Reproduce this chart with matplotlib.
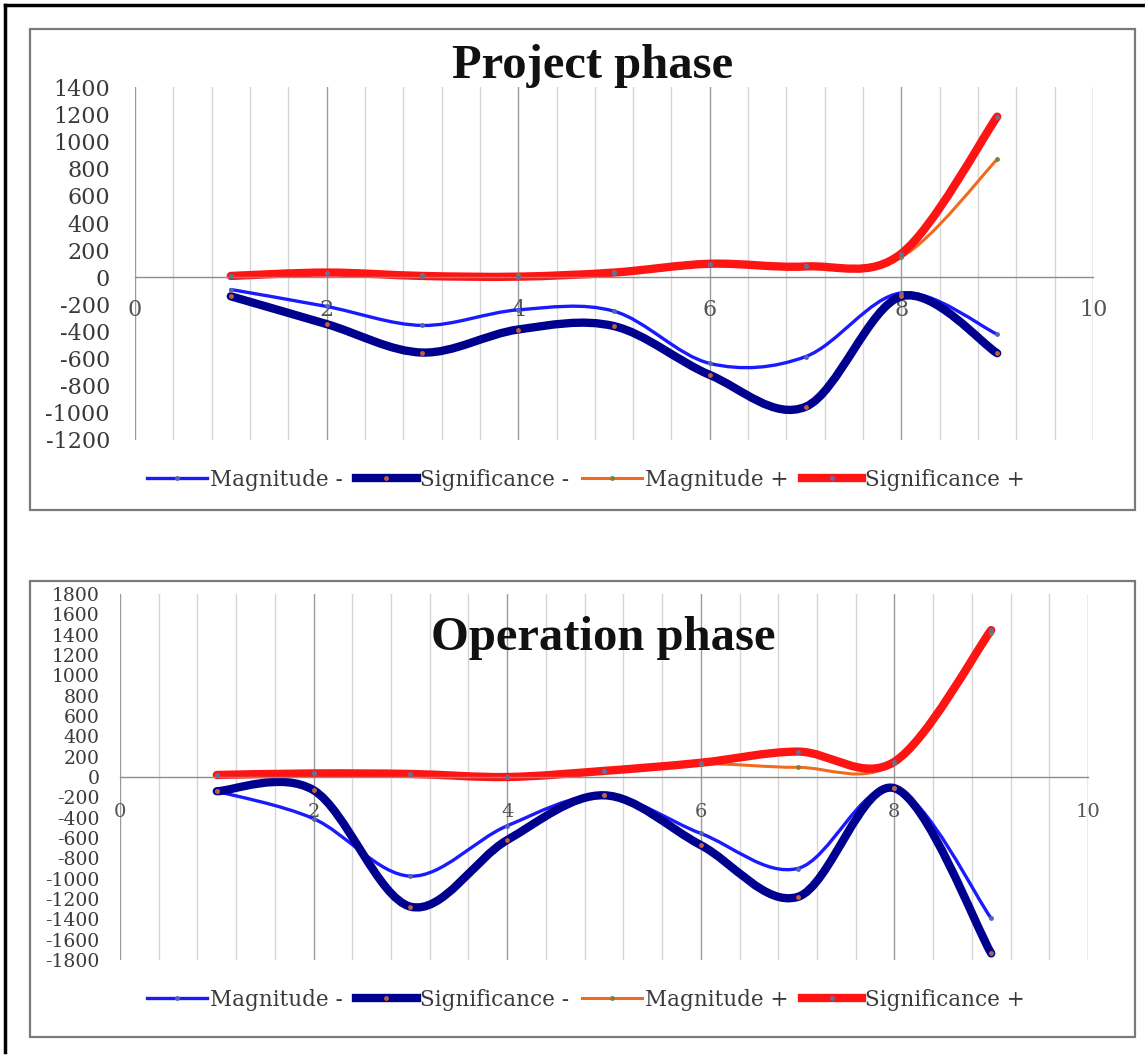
import numpy as np
import matplotlib
matplotlib.use("Agg")
import matplotlib.pyplot as plt
from matplotlib.path import Path
from matplotlib.patches import PathPatch, Rectangle
from matplotlib.lines import Line2D

plt.rcParams["axes.unicode_minus"] = False

# data (x = 1..9)
x_pts = [1, 2, 3, 4, 5, 6, 7, 8, 9]

proj_mag_neg = [-90, -215, -355, -240, -250, -635, -585, -115, -420]
proj_sig_neg = [-140, -345, -555, -385, -360, -720, -955, -140, -560]
proj_mag_pos = [10, 35, 15, 15, 40, 100, 85, 150, 870]
proj_sig_pos = [10, 35, 10, 5, 35, 100, 80, 175, 1185]

oper_mag_neg = [-140, -410, -975, -480, -180, -555, -900, -110, -1390]
oper_sig_neg = [-140, -130, -1275, -620, -180, -670, -1180, -110, -1735]
oper_mag_pos = [20, 35, 30, 0, 60, 130, 95, 140, 1420]
oper_sig_pos = [20, 35, 30, 0, 60, 140, 250, 150, 1445]

labels = ["Magnitude -", "Significance -", "Magnitude +", "Significance +"]
colors = ["#1a1aff", "#00008f", "#f26b1d", "#ff1414"]
widths = [2.4, 6.0, 2.2, 6.0]
mcolors = ["#5068b0", "#c0603a", "#808040", "#6070a0"]

W, H = 1145, 1057
fig = plt.figure(figsize=(W / 100, H / 100), dpi=100)

SERIF = "DejaVu Serif"
TXT = "#3a3a3a"


def smooth_path(xs, ys):
    # excel-like smoothed line: catmull-rom as cubic bezier segments
    p = np.column_stack([xs, ys]).astype(float)
    ext = np.vstack([p[0], p, p[-1]])
    verts = [p[0]]
    codes = [Path.MOVETO]
    for i in range(len(p) - 1):
        c1 = ext[i + 1] + (ext[i + 2] - ext[i]) / 6
        c2 = ext[i + 2] - (ext[i + 3] - ext[i + 1]) / 6
        verts += [c1, c2, p[i + 1]]
        codes += [Path.CURVE4] * 3
    return Path(verts, codes)


def px_rect(x0, y0, x1, y1):
    return [x0 / W, 1 - y1 / H, (x1 - x0) / W, (y1 - y0) / H]


def draw_panel(rect, series, ylim, fs, xfs, ypad, xpad):
    ax = fig.add_axes(rect)
    ax.set_xlim(0, 10)
    ax.set_ylim(*ylim)
    ax.set_facecolor("none")

    for v in np.arange(0.4, 10.0, 0.4):
        if abs(v / 2 - round(v / 2)) > 1e-6:
            ax.axvline(v, color="#d6d6d6", lw=1.0, zorder=0)
    for v in range(0, 11, 2):
        ax.axvline(v, color="#9a9a9a", lw=1.0, zorder=0)

    for s, c, lw, mc in zip(series, colors, widths, mcolors):
        ax.add_patch(PathPatch(smooth_path(x_pts, s), fill=False, ec=c, lw=lw,
                               capstyle="round", joinstyle="round", zorder=2))
        ax.plot(x_pts, s, ls="none", marker="o", ms=3.5, mew=0, color=mc, zorder=3)

    for sp in ["top", "right", "left"]:
        ax.spines[sp].set_visible(False)
    ax.spines["bottom"].set_position(("data", 0))
    ax.spines["bottom"].set_color("#8c8c8c")
    ax.spines["bottom"].set_linewidth(1.0)

    ax.set_yticks(np.arange(ylim[0], ylim[1] + 1, 200))
    ax.set_xticks(range(0, 11, 2))
    ax.tick_params(axis="y", length=0, pad=ypad, labelsize=fs, labelcolor=TXT)
    ax.tick_params(axis="x", length=0, pad=xpad, labelsize=xfs, labelcolor="#555555")
    for t in ax.get_xticklabels() + ax.get_yticklabels():
        t.set_fontfamily(SERIF)
    return ax


draw_panel(px_rect(135, 87.5, 1093, 440),
           [proj_mag_neg, proj_sig_neg, proj_mag_pos, proj_sig_pos],
           (-1200, 1400), 16, 16, 18, 15.5)
draw_panel(px_rect(120, 594, 1088, 960),
           [oper_mag_neg, oper_sig_neg, oper_mag_pos, oper_sig_pos],
           (-1800, 1800), 13.5, 14, 14.5, 18.5)

# panel frames and page border
for y0, y1 in [(29, 510), (581, 1037)]:
    fig.patches.append(Rectangle((30 / W, 1 - y1 / H), (1135 - 30) / W, (y1 - y0) / H,
                                 transform=fig.transFigure, fill=False,
                                 ec="#7a7a7a", lw=1.6, zorder=0))
fig.add_artist(Line2D([5 / W, 1], [1 - 5 / H, 1 - 5 / H], color="black", lw=2.5))
fig.add_artist(Line2D([5 / W, 5 / W], [1 - 5 / H, 1 - 1052 / H], color="black", lw=2.5))

fig.text(593 / W, 1 - 78 / H, "Project phase", ha="center", va="baseline",
         fontsize=35, fontweight="bold", family="Liberation Serif", color="#111111")
fig.text(603 / W, 1 - 650 / H, "Operation phase", ha="center", va="baseline",
         fontsize=35, fontweight="bold", family="Liberation Serif", color="#111111")

handles = [Line2D([], [], color=c, lw=lw, marker="o", ms=3.5, mew=0, mfc=mc)
           for c, lw, mc in zip(colors, widths, mcolors)]
for yc in [480, 1000]:
    fig.legend(handles, labels, loc="center", bbox_to_anchor=(586 / W, 1 - yc / H),
               ncol=4, frameon=False, numpoints=1, handlelength=2.8,
               handletextpad=0.15, columnspacing=0.6, labelcolor=TXT,
               prop={"family": SERIF, "size": 15.5})

fig.savefig("out.png", dpi=100)
